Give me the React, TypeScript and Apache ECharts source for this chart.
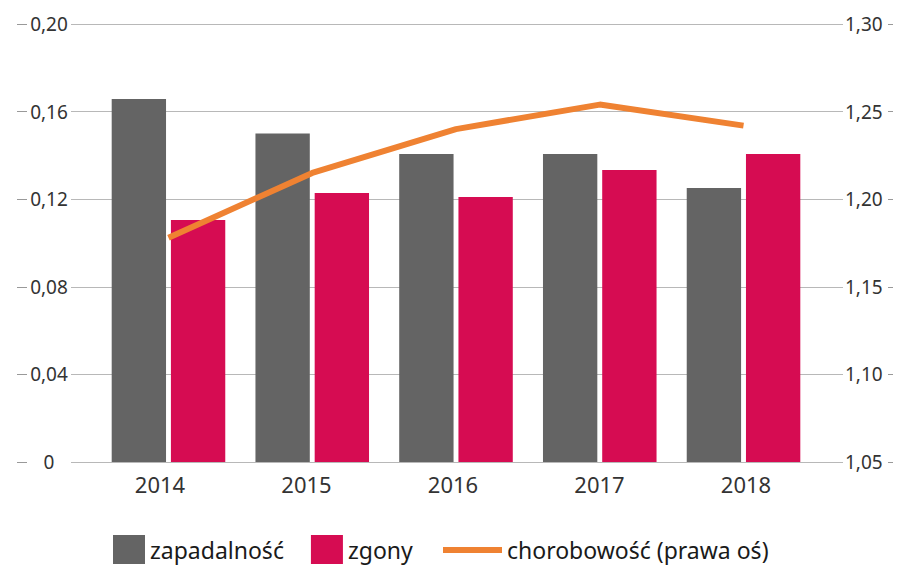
import React, { useEffect, useRef } from "react";
import * as echarts from "echarts";

const years = ["2014", "2015", "2016", "2017", "2018"];
const zapadalnosc = [0.1658, 0.15, 0.1406, 0.1406, 0.1251];
const zgony = [0.1105, 0.1228, 0.121, 0.1333, 0.1406];
const chorobowosc = [1.178, 1.215, 1.24, 1.254, 1.242];

const FONT = "Noto Sans";
const GRAY = "#646464";
const PINK = "#d60c52";
const ORANGE = "#ef8232";
const GRID = "#b8b8b8";

const comma = (v: number, d: number) => (v === 0 ? "0" : v.toFixed(d).replace(".", ","));

export default function App() {
  const ref = useRef<HTMLDivElement>(null);
  useEffect(() => {
    const chart = echarts.init(ref.current!, undefined, { renderer: "svg" });
    const top = 24;
    const bottom = 103;
    chart.setOption({
      animation: false,
      textStyle: { fontFamily: FONT },
      grid: [
        { left: 71, right: 54, top, bottom },
        { left: 96.6, right: 81.6, top, bottom },
        { left: 86.75, right: 77.75, top, bottom },
      ],
      xAxis: [
        { type: "category", data: years, gridIndex: 0, show: false },
        {
          type: "category",
          data: years,
          gridIndex: 1,
          axisLine: { show: false },
          axisTick: { show: false },
          axisLabel: { show: false },
        },
        {
          type: "category",
          data: years,
          gridIndex: 2,
          axisLine: { show: false },
          axisTick: { show: false },
          axisLabel: { fontSize: 22, color: "#333", margin: 11, fontFamily: FONT },
        },
      ],
      yAxis: [
        {
          type: "value",
          gridIndex: 0,
          position: "left",
          min: 0,
          max: 0.2,
          interval: 0.04,
          axisLine: { show: false },
          axisTick: { show: false },
          splitLine: { show: true, lineStyle: { color: GRID, width: 1 } },
          axisLabel: {
            fontSize: 19,
            color: "#333",
            align: "center",
            margin: 22,
            fontFamily: FONT,
            formatter: (v: number) => comma(v, 2),
          },
        },
        {
          type: "value",
          gridIndex: 0,
          position: "right",
          min: 1.05,
          max: 1.3,
          interval: 0.05,
          axisLine: { show: false },
          axisTick: { show: false },
          splitLine: { show: false },
          axisLabel: {
            fontSize: 19,
            color: "#333",
            align: "left",
            margin: 2,
            fontFamily: FONT,
            formatter: (v: number) => comma(v, 2),
          },
        },
        {
          type: "value",
          gridIndex: 0,
          position: "left",
          offset: 44,
          min: 0,
          max: 0.2,
          interval: 0.04,
          axisLine: { show: false },
          axisTick: { show: true, length: 10, lineStyle: { color: "#999" } },
          axisLabel: { show: false },
          splitLine: { show: false },
        },
        {
          type: "value",
          gridIndex: 0,
          position: "right",
          offset: 45,
          min: 1.05,
          max: 1.3,
          interval: 0.05,
          axisLine: { show: false },
          axisTick: { show: true, length: 5, lineStyle: { color: "#999" } },
          axisLabel: { show: false },
          splitLine: { show: false },
        },
        { type: "value", gridIndex: 1, min: 0, max: 0.2, show: false },
        { type: "value", gridIndex: 1, min: 1.05, max: 1.3, show: false },
        { type: "value", gridIndex: 2, min: 0, max: 1, show: false },
      ],
      legend: [
        {
          data: ["zapadalność", "zgony"],
          left: 113,
          top: 535,
          padding: 0,
          icon: "rect",
          itemWidth: 32,
          itemHeight: 29,
          itemGap: 27,
          textStyle: { fontSize: 23, color: "#1a1a1a", fontFamily: FONT },
        },
        {
          data: ["chorobowość (prawa oś)"],
          left: 443,
          top: 538.5,
          padding: 0,
          icon: "rect",
          itemWidth: 59,
          itemHeight: 6,
          textStyle: { fontSize: 23, color: "#1a1a1a", fontFamily: FONT },
        },
      ],
      series: [
        {
          name: "zapadalność",
          type: "bar",
          xAxisIndex: 1,
          yAxisIndex: 4,
          data: zapadalnosc,
          barGap: "9%",
          barCategoryGap: "21%",
          itemStyle: { color: GRAY },
        },
        {
          name: "zgony",
          type: "bar",
          xAxisIndex: 1,
          yAxisIndex: 4,
          data: zgony,
          barGap: "9%",
          barCategoryGap: "21%",
          itemStyle: { color: PINK },
        },
        {
          name: "chorobowość (prawa oś)",
          type: "line",
          xAxisIndex: 1,
          yAxisIndex: 5,
          data: chorobowosc,
          symbol: "none",
          lineStyle: { color: ORANGE, width: 6 },
          itemStyle: { color: ORANGE },
        },
      ],
    });
    return () => chart.dispose();
  }, []);
  return <div ref={ref} style={{ width: 897, height: 565, position: "absolute", left: 0, top: 0 }} />;
}
